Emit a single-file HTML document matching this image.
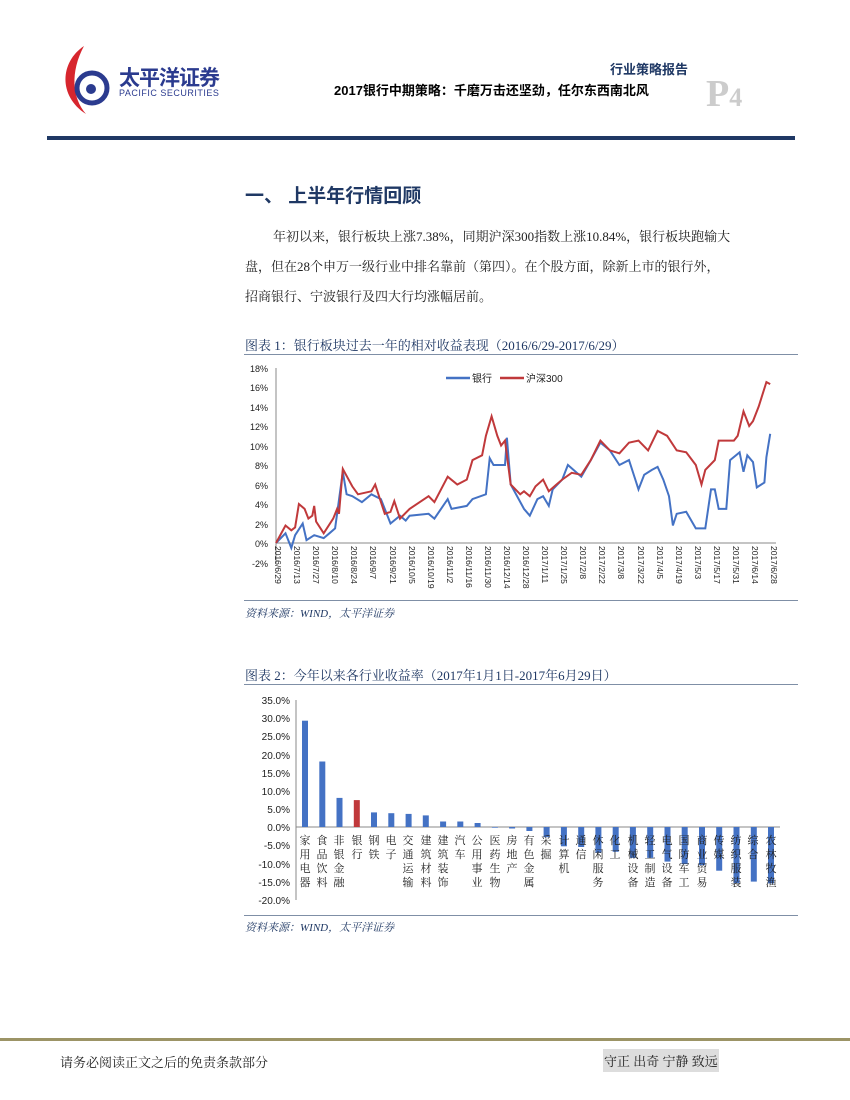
<!DOCTYPE html>
<html><head><meta charset="utf-8">
<style>
body{margin:0;width:850px;height:1100px;position:relative;background:#fff;font-family:"Liberation Sans","Noto Sans CJK SC",sans-serif;overflow:hidden}
.a{position:absolute;white-space:nowrap}
.serif{font-family:"Liberation Serif","Noto Serif CJK SC",serif}
.lbl{position:absolute;width:12px;font-size:11px;line-height:14px;white-space:normal;word-break:break-all;text-align:center;color:#222;font-family:"Liberation Serif","Noto Serif CJK SC",serif}
</style></head><body>
<!-- logo -->
<svg class="a" style="left:58px;top:44px" width="60" height="72">
<path d="M26 2 C2 18 0 52 28 70 C14 54 12 28 26 2Z" fill="#d7262e"/>
<circle cx="34" cy="44" r="15" fill="none" stroke="#2b3b8f" stroke-width="5"/>
<circle cx="33" cy="45" r="5" fill="#2b3b8f"/>
</svg>
<div class="a" style="left:119px;top:62px;font-size:21px;font-weight:bold;color:#2b3b8f;letter-spacing:-1px">太平洋证券</div>
<div class="a" style="left:119px;top:88px;font-size:9px;color:#2b3b8f;letter-spacing:0.5px">PACIFIC SECURITIES</div>
<div class="a" style="left:610px;top:59px;font-size:13px;font-weight:bold;color:#1f3864">行业策略报告</div>
<div class="a" style="left:334px;top:80px;font-size:13px;font-weight:bold;color:#000">2017银行中期策略：千磨万击还坚劲，任尔东西南北风</div>
<div class="a serif" style="left:706px;top:72px;font-size:38px;font-weight:bold;color:#ccc">P<span style="font-size:26px">4</span></div>
<div class="a" style="left:47px;top:136px;width:748px;height:4px;background:#1f3864"></div>

<div class="a" style="left:245px;top:181px;font-size:19px;font-weight:bold;color:#1f3864">一、 上半年行情回顾</div>
<div class="a serif" style="left:245px;top:222px;font-size:13px;line-height:30px;color:#222;white-space:normal;width:560px">
<div style="text-indent:28px">年初以来，银行板块上涨7.38%，同期沪深300指数上涨10.84%，银行板块跑输大</div>
<div>盘，但在28个申万一级行业中排名靠前（第四）。在个股方面，除新上市的银行外，</div>
<div>招商银行、宁波银行及四大行均涨幅居前。</div></div>

<div class="a serif" style="left:245px;top:335px;font-size:13px;color:#1f3864">图表 1：银行板块过去一年的相对收益表现（2016/6/29-2017/6/29）</div>
<div class="a" style="left:244px;top:354px;width:554px;height:1px;background:#7f8fa6"></div>
<div class="a" style="left:244px;top:600px;width:554px;height:1px;background:#7f8fa6"></div>
<div class="a serif" style="left:245px;top:605px;font-size:11px;font-style:italic;color:#1f3864">资料来源：WIND，太平洋证券</div>

<svg class="a" style="left:0;top:0" width="850" height="1100" id="s">
<g font-size="9" fill="#222" text-anchor="end" font-family="Liberation Sans,sans-serif">
<text x="268" y="372">18%</text><text x="268" y="391">16%</text><text x="268" y="411">14%</text><text x="268" y="430">12%</text><text x="268" y="450">10%</text><text x="268" y="469">8%</text><text x="268" y="489">6%</text><text x="268" y="508">4%</text><text x="268" y="528">2%</text><text x="268" y="547">0%</text><text x="268" y="567">-2%</text>
</g>
<line x1="276" y1="368" x2="276" y2="563" stroke="#888"/>
<line x1="276" y1="543" x2="776" y2="543" stroke="#888"/>
<g font-size="8.5" fill="#222" font-family="Liberation Sans,sans-serif">
<text transform="translate(275,546) rotate(90)">2016/6/29</text>
<text transform="translate(294,546) rotate(90)">2016/7/13</text>
<text transform="translate(313,546) rotate(90)">2016/7/27</text>
<text transform="translate(332,546) rotate(90)">2016/8/10</text>
<text transform="translate(351,546) rotate(90)">2016/8/24</text>
<text transform="translate(370,546) rotate(90)">2016/9/7</text>
<text transform="translate(390,546) rotate(90)">2016/9/21</text>
<text transform="translate(409,546) rotate(90)">2016/10/5</text>
<text transform="translate(428,546) rotate(90)">2016/10/19</text>
<text transform="translate(447,546) rotate(90)">2016/11/2</text>
<text transform="translate(466,546) rotate(90)">2016/11/16</text>
<text transform="translate(485,546) rotate(90)">2016/11/30</text>
<text transform="translate(504,546) rotate(90)">2016/12/14</text>
<text transform="translate(523,546) rotate(90)">2016/12/28</text>
<text transform="translate(542,546) rotate(90)">2017/1/11</text>
<text transform="translate(561,546) rotate(90)">2017/1/25</text>
<text transform="translate(580,546) rotate(90)">2017/2/8</text>
<text transform="translate(599,546) rotate(90)">2017/2/22</text>
<text transform="translate(618,546) rotate(90)">2017/3/8</text>
<text transform="translate(638,546) rotate(90)">2017/3/22</text>
<text transform="translate(657,546) rotate(90)">2017/4/5</text>
<text transform="translate(676,546) rotate(90)">2017/4/19</text>
<text transform="translate(695,546) rotate(90)">2017/5/3</text>
<text transform="translate(714,546) rotate(90)">2017/5/17</text>
<text transform="translate(733,546) rotate(90)">2017/5/31</text>
<text transform="translate(752,546) rotate(90)">2017/6/14</text>
<text transform="translate(771,546) rotate(90)">2017/6/28</text>
</g>
<line x1="446" y1="378" x2="470" y2="378" stroke="#4472c4" stroke-width="2.5"/>
<text x="472" y="382" font-size="10" fill="#222">银行</text>
<line x1="500" y1="378" x2="524" y2="378" stroke="#c0393b" stroke-width="2.5"/>
<text x="526" y="382" font-size="10" fill="#222">沪深300</text>
<polyline id="blue" fill="none" stroke="#4472c4" stroke-width="2"/>
<polyline id="red" fill="none" stroke="#c0393b" stroke-width="2"/>

<g font-size="10" fill="#222" text-anchor="end" font-family="Liberation Sans,sans-serif">
<text x="290" y="704">35.0%</text><text x="290" y="722">30.0%</text><text x="290" y="740">25.0%</text><text x="290" y="759">20.0%</text><text x="290" y="777">15.0%</text><text x="290" y="795">10.0%</text><text x="290" y="813">5.0%</text><text x="290" y="831">0.0%</text><text x="290" y="849">-5.0%</text><text x="290" y="868">-10.0%</text><text x="290" y="886">-15.0%</text><text x="290" y="904">-20.0%</text>
</g>
<line x1="296" y1="700" x2="296" y2="900" stroke="#888"/>
<line x1="296" y1="827" x2="780" y2="827" stroke="#888"/>
<g id="bars"></g>
</svg>

<div class="a serif" style="left:245px;top:665px;font-size:13px;color:#1f3864">图表 2：今年以来各行业收益率（2017年1月1日-2017年6月29日）</div>
<div class="a" style="left:244px;top:684px;width:554px;height:1px;background:#7f8fa6"></div>
<div class="a" style="left:244px;top:915px;width:554px;height:1px;background:#7f8fa6"></div>
<div class="a serif" style="left:245px;top:919px;font-size:11px;font-style:italic;color:#1f3864">资料来源：WIND，太平洋证券</div>

<div class="lbl" style="left:299px;top:834px">家用电器</div>
<div class="lbl" style="left:316px;top:834px">食品饮料</div>
<div class="lbl" style="left:333px;top:834px">非银金融</div>
<div class="lbl" style="left:351px;top:834px">银行</div>
<div class="lbl" style="left:368px;top:834px">钢铁</div>
<div class="lbl" style="left:385px;top:834px">电子</div>
<div class="lbl" style="left:402px;top:834px">交通运输</div>
<div class="lbl" style="left:420px;top:834px">建筑材料</div>
<div class="lbl" style="left:437px;top:834px">建筑装饰</div>
<div class="lbl" style="left:454px;top:834px">汽车</div>
<div class="lbl" style="left:471px;top:834px">公用事业</div>
<div class="lbl" style="left:489px;top:834px">医药生物</div>
<div class="lbl" style="left:506px;top:834px">房地产</div>
<div class="lbl" style="left:523px;top:834px">有色金属</div>
<div class="lbl" style="left:540px;top:834px">采掘</div>
<div class="lbl" style="left:558px;top:834px">计算机</div>
<div class="lbl" style="left:575px;top:834px">通信</div>
<div class="lbl" style="left:592px;top:834px">休闲服务</div>
<div class="lbl" style="left:609px;top:834px">化工</div>
<div class="lbl" style="left:627px;top:834px">机械设备</div>
<div class="lbl" style="left:644px;top:834px">轻工制造</div>
<div class="lbl" style="left:661px;top:834px">电气设备</div>
<div class="lbl" style="left:678px;top:834px">国防军工</div>
<div class="lbl" style="left:696px;top:834px">商业贸易</div>
<div class="lbl" style="left:713px;top:834px">传媒</div>
<div class="lbl" style="left:730px;top:834px">纺织服装</div>
<div class="lbl" style="left:747px;top:834px">综合</div>
<div class="lbl" style="left:765px;top:834px">农林牧渔</div>

<div class="a" style="left:0;top:1038px;width:850px;height:3px;background:#9c9466"></div>
<div class="a serif" style="left:60px;top:1052px;font-size:13px;color:#222">请务必阅读正文之后的免责条款部分</div>
<div class="a serif" style="left:603px;top:1049px;font-size:13px;color:#222;background:#ddd;padding:2px 1px">守正 出奇 宁静 致远</div>

<script>
function X(i){return 276+i*19.08;}
function Y(v){return 543-v*9.75;}
var red=[[0,0],[0.5,1.8],[0.8,1.3],[1,1.6],[1.2,4],[1.5,3.5],[1.7,2.5],[1.9,2.8],[2,3.8],[2.1,2.2],[2.5,1],[3,2.5],[3.2,3.5],[3.3,3],[3.5,7.6],[4,5.8],[4.3,5],[5,5.3],[5.2,6],[5.4,4.8],[5.7,3],[6,3.2],[6.2,4.3],[6.5,2.5],[7,3.5],[8,4.8],[8.3,4.2],[9,6.8],[9.5,6],[10,6.5],[10.3,8.5],[10.8,9],[11,11],[11.3,13],[11.6,11],[11.8,10],[12,10.5],[12.3,6],[12.8,5],[13,5.3],[13.3,4.8],[13.6,5.8],[14,6.5],[14.3,5.3],[14.7,6],[15,6.5],[15.5,7.2],[16,7],[16.5,8.5],[17,10.5],[17.5,9.5],[18,9.2],[18.5,10.3],[19,10.5],[19.5,9.5],[20,11.5],[20.5,11],[21,9.5],[21.5,9.3],[22,8],[22.3,6],[22.5,7.5],[23,8.5],[23.2,10.5],[24,10.5],[24.2,11],[24.5,13.5],[24.8,12],[25,12.5],[25.3,14],[25.7,16.5],[25.9,16.3]];
var blue=[[0,0],[0.5,1],[0.8,-0.5],[1,0.8],[1.4,2],[1.6,0.3],[2,0.8],[2.5,0.5],[2.8,1],[3.1,1.5],[3.5,7.3],[3.7,5],[4,4.8],[4.5,4.2],[5,5],[5.5,4.5],[6,2],[6.5,2.8],[6.8,2.3],[7,2.8],[8,3],[8.3,2.5],[9,4.5],[9.2,3.5],[10,3.8],[10.3,4.5],[11,5],[11.2,8.7],[11.4,8],[12,8],[12.1,10.8],[12.3,6],[13,3.5],[13.3,2.8],[13.7,4.5],[14,4.8],[14.3,3.8],[14.5,5.5],[15,6.5],[15.3,8],[16,6.8],[16.5,8.5],[17,10.3],[17.5,9.5],[18,8],[18.5,8.5],[19,5.5],[19.3,7],[19.7,7.5],[20,7.8],[20.3,6.5],[20.6,4.8],[20.8,1.8],[21,3],[21.5,3.2],[22,1.5],[22.5,1.5],[22.8,5.5],[23,5.5],[23.2,3.5],[23.6,3.5],[23.8,8.5],[24.3,9.3],[24.5,7.3],[24.7,9],[25,8.3],[25.2,5.7],[25.6,6.2],[25.7,8.8],[25.9,11.2]];
function pts(a){return a.map(function(p){return X(p[0]).toFixed(1)+','+Y(p[1]).toFixed(1)}).join(' ');}
document.getElementById('red').setAttribute('points',pts(red));
document.getElementById('blue').setAttribute('points',pts(blue));
var vals=[29.2,18,8,7.4,4,3.8,3.6,3.2,1.5,1.5,1.1,-0.2,-0.4,-1.1,-2.8,-5.3,-5.5,-7,-6.8,-8.5,-8.5,-9.5,-10.2,-10.5,-12,-15.5,-15,-15.5];
var g=document.getElementById('bars'),h='';
vals.forEach(function(v,i){var cx=305+i*17.26,y0=827,y1=827-v*3.64;
h+='<rect x="'+(cx-3).toFixed(1)+'" y="'+Math.min(y0,y1).toFixed(1)+'" width="6" height="'+Math.abs(y1-y0).toFixed(1)+'" fill="'+(i==3?'#c0393b':'#4472c4')+'"/>';});
g.innerHTML=h;
</script>
</body></html>
